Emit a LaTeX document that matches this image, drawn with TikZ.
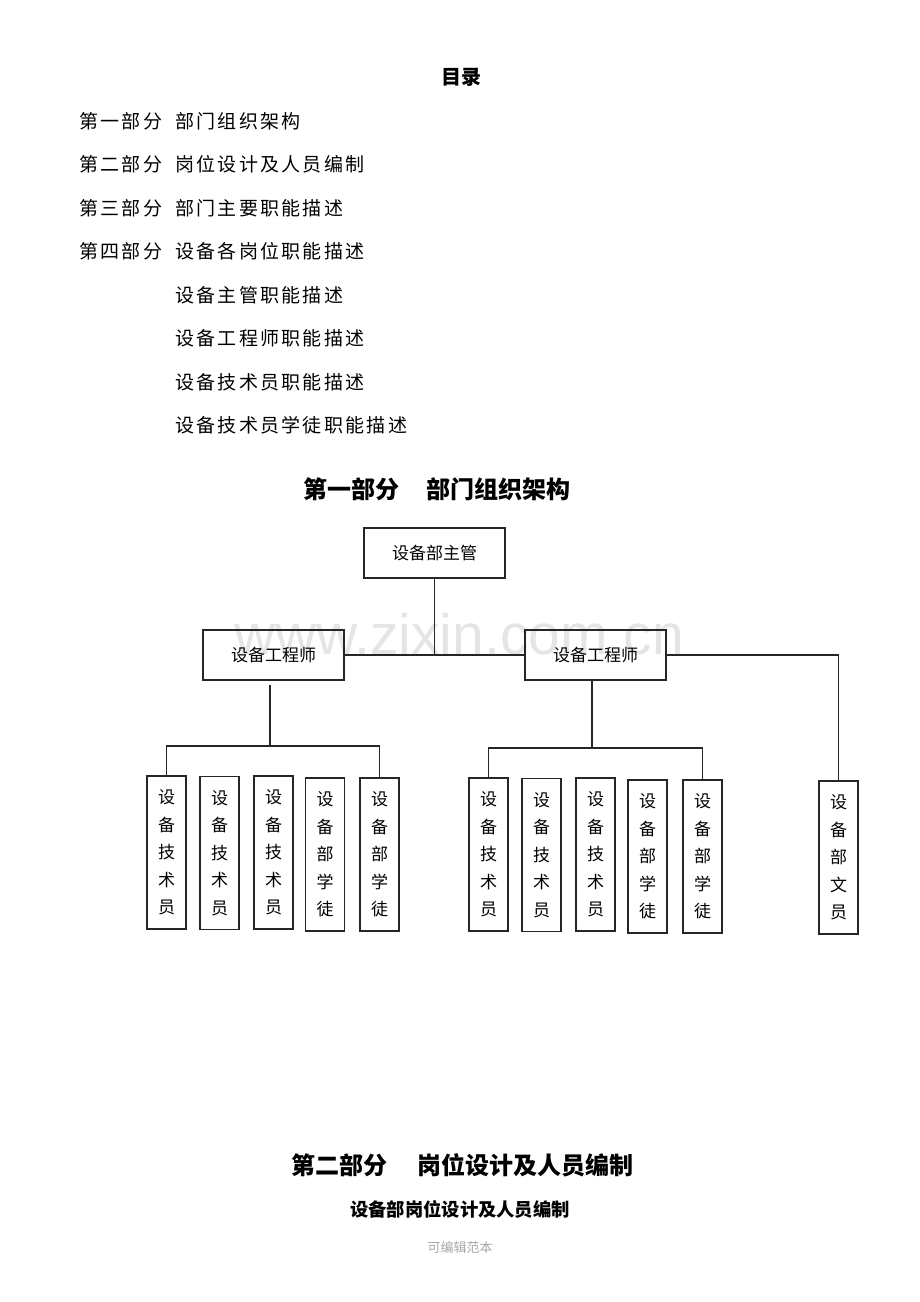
\documentclass[tikz,border=0pt]{standalone}
\usepackage{fontspec}
\setmainfont{Noto Sans CJK SC}
\newfontfamily\tocfont[LetterSpace=12]{Noto Sans CJK SC}
\newfontfamily\wmfont{Liberation Sans}
\usepackage{tikz}
\usetikzlibrary{calc}

\begin{document}
\begin{tikzpicture}[x=1pt,y=-1pt]
    \tikzstyle{edge}=[line width=1.1pt,draw=black!85]
    \tikzstyle{box}=[
      draw=black!85,
      line width=1.3pt,
      rectangle,
      inner sep=0pt,
      anchor=center,
      font=\fontsize{17}{17}\selectfont,
    ]
    \tikzstyle{headbox}=[
      box,
      minimum width=141pt,
      minimum height=50pt,
    ]
    \tikzstyle{staff}=[
      box,
      minimum width=39pt,
      minimum height=153pt,
      align=center,
      font=\fontsize{17}{27.5}\selectfont,
    ]
    \tikzstyle{toc}=[anchor=west,inner sep=0pt,font=\fontsize{19}{19}\tocfont]
    \tikzstyle{title}=[anchor=center,inner sep=0pt,font=\bfseries]

    \useasboundingbox (0,0) rectangle (920,1302);

    % watermark
    {
      \node[anchor=center,text=black!10,font=\fontsize{57}{57}\wmfont] (mark) at (459,634) {www.zixin.com.cn};
    }

    % contents
    {
      \node[title,font=\fontsize{20}{20}\selectfont\bfseries] (tocHead) at (461,77) {目录};

      \node[toc] (part1) at (79,121) {第一部分};
      \node[toc] (part2) at (79,164) {第二部分};
      \node[toc] (part3) at (79,208) {第三部分};
      \node[toc] (part4) at (79,251) {第四部分};

      \node[toc] (item1) at (175,121) {部门组织架构};
      \node[toc] (item2) at (175,164) {岗位设计及人员编制};
      \node[toc] (item3) at (175,208) {部门主要职能描述};
      \node[toc] (item4) at (175,251) {设备各岗位职能描述};
      \node[toc] (item41) at (175,295) {设备主管职能描述};
      \node[toc] (item42) at (175,338) {设备工程师职能描述};
      \node[toc] (item43) at (175,382) {设备技术员职能描述};
      \node[toc] (item44) at (175,425) {设备技术员学徒职能描述};
    }

    % part one heading
    {
      \node[title,font=\fontsize{24}{24}\selectfont\bfseries] (partOneHead) at (437,489) {第一部分\hspace{28pt}部门组织架构};
    }

    % org chart
    {
      \node[headbox] (mgr) at (434.5,553) {设备部主管};
      \node[headbox] (eng1) at (273.5,655) {设备工程师};
      \node[headbox] (eng2) at (595.5,655) {设备工程师};

      \node[staff] (tech11) at (166.5,852.5) {设\\备\\技\\术\\员};
      \node[staff] (tech12) at (219.5,853) {设\\备\\技\\术\\员};
      \node[staff] (tech13) at (273.5,852.5) {设\\备\\技\\术\\员};
      \node[staff] (appr11) at (325,854.5) {设\\备\\部\\学\\徒};
      \node[staff] (appr12) at (379.5,854.5) {设\\备\\部\\学\\徒};

      \node[staff] (tech21) at (488.5,854.5) {设\\备\\技\\术\\员};
      \node[staff] (tech22) at (541.5,855) {设\\备\\技\\术\\员};
      \node[staff] (tech23) at (595.5,854.5) {设\\备\\技\\术\\员};
      \node[staff] (appr21) at (647.5,856.5) {设\\备\\部\\学\\徒};
      \node[staff] (appr22) at (702.5,856.5) {设\\备\\部\\学\\徒};

      \node[staff] (clerk) at (838.5,857.5) {设\\备\\部\\文\\员};

      \coordinate (stub1) at (270,685);
      \coordinate (bus1) at (270,746);
      \coordinate (stub2) at (592,681);
      \coordinate (bus2) at (592,748);

      \draw[edge] (mgr.south)--(mgr.south |- eng1.east);
      \draw[edge] (eng1.east)--(eng2.west);
      \draw[edge] (eng2.east)-|(clerk.north);

      \draw[edge] (stub1)--(bus1);
      \draw[edge] (tech11.north)|-(bus1)-|(appr12.north);

      \draw[edge] (stub2)--(bus2);
      \draw[edge] (tech21.north)|-(bus2)-|(appr22.north);
    }

    % part two heading
    {
      \node[title,font=\fontsize{24}{24}\selectfont\bfseries] (partTwoHead) at (462,1165) {第二部分\hspace{30pt}岗位设计及人员编制};
      \node[title,font=\fontsize{18.3}{18.3}\selectfont\bfseries] (partTwoSub) at (460,1209) {设备部岗位设计及人员编制};
      \node[anchor=center,text=black!35,font=\fontsize{13}{13}\selectfont] (footer) at (460,1248) {可编辑范本};
    }
  \end{tikzpicture}
\end{document}
